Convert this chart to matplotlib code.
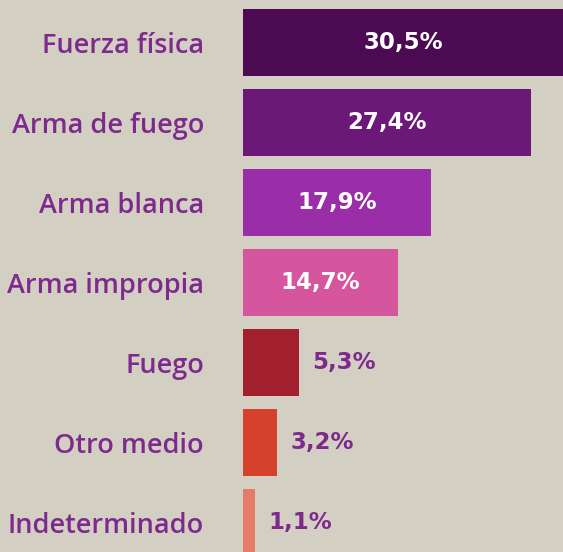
import matplotlib.pyplot as plt

categorias = ["Fuerza física", "Arma de fuego", "Arma blanca", "Arma impropia",
              "Fuego", "Otro medio", "Indeterminado"]
porcentajes = [30.5, 27.4, 17.9, 14.7, 5.3, 3.2, 1.1]
colores = ["#4b0a52", "#6c1878", "#9a2ea8", "#d5559e", "#a21f2e", "#d6412d", "#e67b6a"]

fondo = "#d4cfc3"
morado = "#7e2a8c"

fig = plt.figure(figsize=(5.63, 5.52), dpi=100, facecolor=fondo)
ax = fig.add_axes([243 / 563, 0, 1 - 243 / 563, 1])
ax.set_facecolor(fondo)

pos = list(range(len(categorias)))
ax.barh(pos, porcentajes, height=0.84, color=colores)

for i, v in enumerate(porcentajes):
    txt = f"{v:.1f}%".replace(".", ",")
    if v > 10:
        ax.text(v / 2, i, txt, ha="center", va="center", color="white",
                fontsize=16.5, fontweight="bold", family="DejaVu Sans")
    else:
        ax.annotate(txt, (v, i), xytext=(10, 0), textcoords="offset points",
                    ha="left", va="center", color=morado,
                    fontsize=16.5, fontweight="bold", family="DejaVu Sans")

ax.set_xlim(0, 30.4)
ax.set_ylim(6.37, -0.53)
ax.set_yticks(pos)
ax.set_yticklabels(categorias, fontsize=19.5, color=morado, family="Open Sans",
                   fontweight="semibold")
ax.tick_params(axis="y", length=0, pad=28)
ax.set_xticks([])
for s in ax.spines.values():
    s.set_visible(False)

fig.savefig("out.png", dpi=100, facecolor=fondo)
